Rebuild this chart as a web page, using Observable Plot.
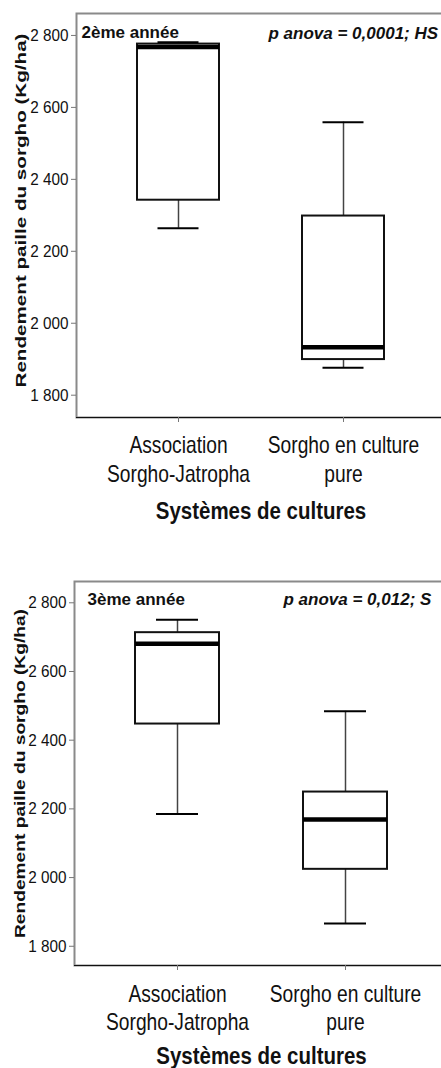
<!DOCTYPE html>
<html><head><meta charset="utf-8">
<script src="https://cdn.jsdelivr.net/npm/d3@7"></script>
<script src="https://cdn.jsdelivr.net/npm/@observablehq/plot@0.6"></script>
<style>body{margin:0;background:#fff}svg{display:block}</style>
</head><body><div id="c"></div>
<script>
const categories = ["Association Sorgho-Jatropha", "Sorgho en culture pure"];
const categoryLabels = ["Association\nSorgho-Jatropha", "Sorgho en culture\npure"];
const yTicks = [1800, 2000, 2200, 2400, 2600, 2800];
// 2ème année
const y2Min = [2264, 1876];
const y2Q1 = [2342, 1899];
const y2Median = [2768, 1933];
const y2Q3 = [2776, 2298];
const y2Max = [2781, 2559];
// 3ème année
const y3Min = [2185, 1866];
const y3Q1 = [2447, 2024];
const y3Median = [2681, 2169];
const y3Q3 = [2713, 2249];
const y3Max = [2751, 2484];
const panelTitles = ["2ème année", "3ème année"];
const anovaTexts = ["p anova = 0,0001; HS", "p anova = 0,012; S"];
const yTitle = "Rendement paille du sorgho (Kg/ha)";
const xTitle = "Systèmes de cultures";

function table(mins, q1s, meds, q3s, maxs) {
  return categories.map((c, i) => ({cat: c, label: categoryLabels[i], min: mins[i], q1: q1s[i], median: meds[i], q3: q3s[i], max: maxs[i]}));
}

const fmt = d => d3.format(",")(d).replace(",", " ");

function condense(svg, matchFn, sx) {
  d3.select(svg).selectAll("text").filter(function() { return matchFn(this.textContent); })
    .each(function() {
      const t = this.getAttribute("transform") || "";
      this.setAttribute("transform", t + ` scale(${sx},1)`);
    });
}

function panel(data, L) {
  const svg = Plot.plot({
    width: 441,
    height: L.height,
    marginLeft: L.left,
    marginTop: L.top,
    marginBottom: L.height - L.bottom,
    marginRight: 441 - L.right,
    style: {fontFamily: "'Liberation Sans', Arial, sans-serif", background: "#fff", overflow: "hidden"},
    x: {type: "band", domain: categories, paddingInner: L.pi, paddingOuter: L.po, axis: null},
    y: {domain: L.yDomain, axis: null},
    marks: [
      Plot.frame({stroke: "#8a8a8a", strokeWidth: 2}),
      Plot.ruleY([L.yDomain[0]], {stroke: "#111", strokeWidth: 1}),
      Plot.axisY(yTicks, {tickSize: 5, tickPadding: 3, stroke: "#777", fill: "#111", fontSize: 17, label: null, tickFormat: fmt}),
      Plot.axisX({tickSize: 5, stroke: "#777", tickFormat: () => "", label: null}),
      Plot.ruleX(data, {x: "cat", y1: "min", y2: "q1", stroke: "#444", strokeWidth: 1.5}),
      Plot.ruleX(data, {x: "cat", y1: "q3", y2: "max", stroke: "#444", strokeWidth: 1.5}),
      Plot.barY(data, {x: "cat", y1: "q1", y2: "q3", fill: "#fff", stroke: "#111", strokeWidth: 2}),
      Plot.tickY(data, {x: "cat", y: "median", stroke: "#000", strokeWidth: 4.5}),
      Plot.tickY(data, {x: "cat", y: "max", stroke: "#000", strokeWidth: 2, insetLeft: L.capInset, insetRight: L.capInset}),
      Plot.tickY(data, {x: "cat", y: "min", stroke: "#000", strokeWidth: 2, insetLeft: L.capInset, insetRight: L.capInset}),
      Plot.text(data, {x: "cat", text: "label", frameAnchor: "bottom", lineAnchor: "top", dy: L.labelDy, fontSize: 24, lineHeight: 1.17, fill: "#111"}),
      Plot.text([xTitle], {frameAnchor: "bottom", lineAnchor: "top", dy: L.titleDy, fontSize: 23, fontWeight: "bold", fill: "#111"}),
      Plot.text([yTitle], {frameAnchor: "left", textAnchor: "middle", rotate: -90, dx: L.yTitleDx, dy: L.yTitleDy, fontSize: 14, fontWeight: "bold", fill: "#111"}),
      Plot.text([L.title], {frameAnchor: "top-left", textAnchor: "start", lineAnchor: "top", dx: L.titleDx, dy: L.titleTopDy, fontSize: 17, fontWeight: "bold", fill: "#111"}),
      Plot.text([L.anova], {frameAnchor: "top-left", textAnchor: "start", lineAnchor: "top", dx: L.anovaDx, dy: L.anovaDy, fontSize: 17, fontWeight: "bold", fontStyle: "italic", fill: "#111"})
    ]
  });
  d3.select(svg).selectAll("text").filter(function() { return this.textContent === yTitle; })
    .attr("textLength", L.yTitleLen).attr("lengthAdjust", "spacingAndGlyphs");
  const labelSet = new Set(categoryLabels.map(s => s.replace("\n", "")));
  condense(svg, s => labelSet.has(s), 0.8);
  condense(svg, s => s === xTitle, 0.89);
  const tickSet = new Set(yTicks.map(fmt));
  condense(svg, s => tickSet.has(s), 0.9);
  return svg;
}

const c = document.getElementById("c");
c.appendChild(panel(table(y2Min, y2Q1, y2Median, y2Q3, y2Max), {
  height: 540, left: 76, top: 13, bottom: 417, right: 445,
  yDomain: [1738, 2861], pi: 0.503, po: 0.369, capInset: 20.5,
  labelDy: 16, titleDy: 85, yTitleDx: -55, yTitleDy: -5, yTitleLen: 354,
  title: panelTitles[0], titleDx: 5, titleTopDy: 12,
  anova: anovaTexts[0], anovaDx: 192, anovaDy: 13
}));
c.appendChild(panel(table(y3Min, y3Q1, y3Median, y3Q3, y3Max), {
  height: 528, left: 74, top: 41, bottom: 425, right: 448,
  yDomain: [1744, 2862], pi: 0.5, po: 0.363, capInset: 21,
  labelDy: 16.5, titleDy: 82, yTitleDx: -54, yTitleDy: 0, yTitleLen: 329,
  title: panelTitles[1], titleDx: 13, titleTopDy: 11,
  anova: anovaTexts[1], anovaDx: 209, anovaDy: 11
}));
</script>
</body></html>
